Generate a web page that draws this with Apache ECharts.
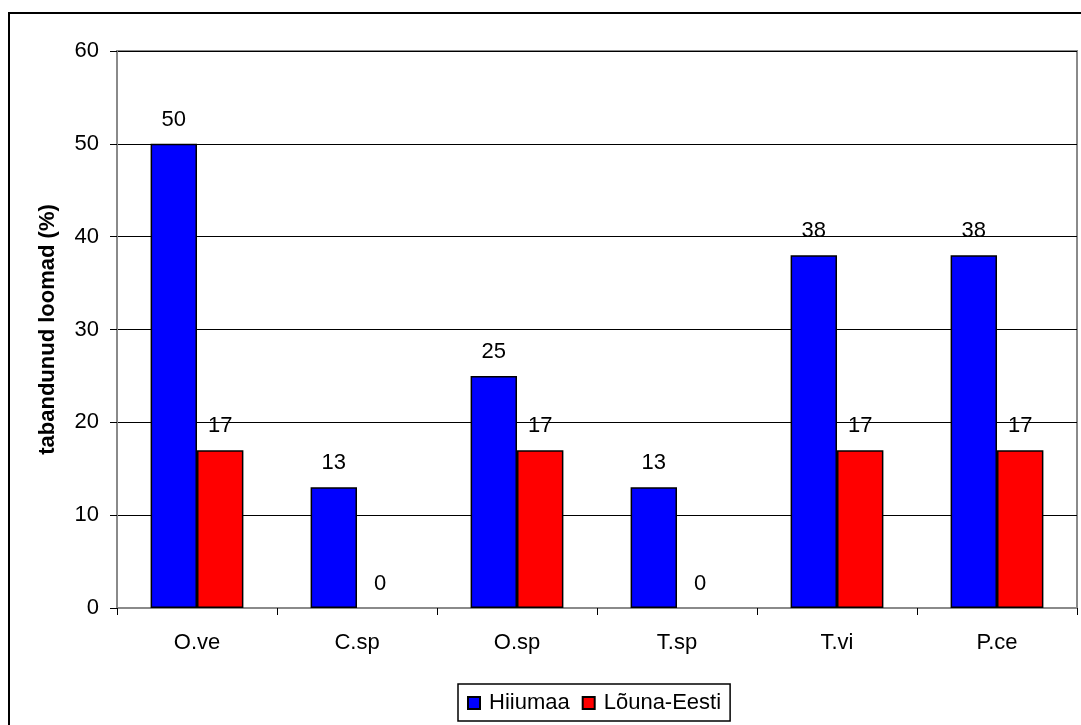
<!DOCTYPE html>
<html>
<head>
<meta charset="utf-8">
<script src="https://cdn.jsdelivr.net/npm/echarts@6/dist/echarts.min.js"></script>
<style>
  html, body { margin: 0; padding: 0; background: #fff; }
  #chart { width: 1081px; height: 725px; }
</style>
</head>
<body>
<div id="chart"></div>
<script>
// Share of infected animals per parasite taxon, by region
const categories = ['O.ve', 'C.sp', 'O.sp', 'T.sp', 'T.vi', 'P.ce'];
const hiiumaa = [50, 13, 25, 13, 38, 38];
const lounaEesti = [17, 0, 17, 0, 17, 17];
const seriesNames = ['Hiiumaa', 'Lõuna-Eesti'];
const yTicks = { min: 0, max: 60, interval: 10 };

const font = 'Liberation Sans, Arial, sans-serif';
const fs = 22;
const chart = echarts.init(document.getElementById('chart'), null, { renderer: 'canvas' });

const labelStyle = {
  show: true,
  position: 'top',
  distance: 13,
  color: '#000',
  fontFamily: font,
  fontSize: fs
};

// zero-height bars get no outline, only their value label
const toBarData = values => values.map(v => v === 0 ? { value: v, itemStyle: { borderWidth: 0 } } : v);

chart.setOption({
  animation: false,
  backgroundColor: '#fff',
  textStyle: { fontFamily: font },
  graphic: [{
    type: 'rect',
    shape: { x: 9, y: 13, width: 1200, height: 800 },
    style: { fill: 'none', stroke: '#000', lineWidth: 2 },
    silent: true
  }],
  grid: {
    left: 117, right: 4, top: 51, bottom: 117,
    show: true, borderColor: '#8a8a8a', borderWidth: 2, backgroundColor: '#fff'
  },
  legend: {
    data: seriesNames,
    bottom: 4,
    left: 458,
    orient: 'horizontal',
    itemWidth: 12, itemHeight: 12, itemGap: 12,
    icon: 'rect',
    padding: [8, 9, 7, 9],
    borderColor: '#000', borderWidth: 1.5,
    textStyle: { fontFamily: font, fontSize: fs, color: '#000', padding: [0, 0, 0, 4] }
  },
  xAxis: {
    type: 'category',
    data: categories,
    axisLine: { lineStyle: { color: '#8a8a8a', width: 2 } },
    axisTick: { show: true, length: 7, lineStyle: { color: '#000' } },
    axisLabel: { color: '#000', fontSize: fs, fontFamily: font, margin: 24 }
  },
  yAxis: {
    type: 'value',
    min: yTicks.min, max: yTicks.max, interval: yTicks.interval,
    name: 'tabandunud loomad (%)',
    nameLocation: 'middle',
    nameGap: 58,
    nameRotate: 90,
    nameTextStyle: { fontFamily: font, fontSize: fs, fontWeight: 'bold', color: '#000' },
    axisLine: { show: true, lineStyle: { color: '#8a8a8a', width: 2 } },
    axisTick: { show: true, length: 7, lineStyle: { color: '#000' } },
    axisLabel: { color: '#000', fontSize: fs, fontFamily: font, margin: 18 },
    splitLine: { show: true, lineStyle: { color: '#000', width: 1 } }
  },
  series: [
    {
      name: seriesNames[0],
      type: 'bar',
      data: toBarData(hiiumaa),
      barGap: '0%',
      barCategoryGap: '42%',
      itemStyle: { color: '#0000ff', borderColor: '#000', borderWidth: 1.5 },
      label: labelStyle
    },
    {
      name: seriesNames[1],
      type: 'bar',
      data: toBarData(lounaEesti),
      barGap: '0%',
      barCategoryGap: '42%',
      itemStyle: { color: '#ff0000', borderColor: '#000', borderWidth: 1.5 },
      label: labelStyle
    }
  ]
});
</script>
</body>
</html>
